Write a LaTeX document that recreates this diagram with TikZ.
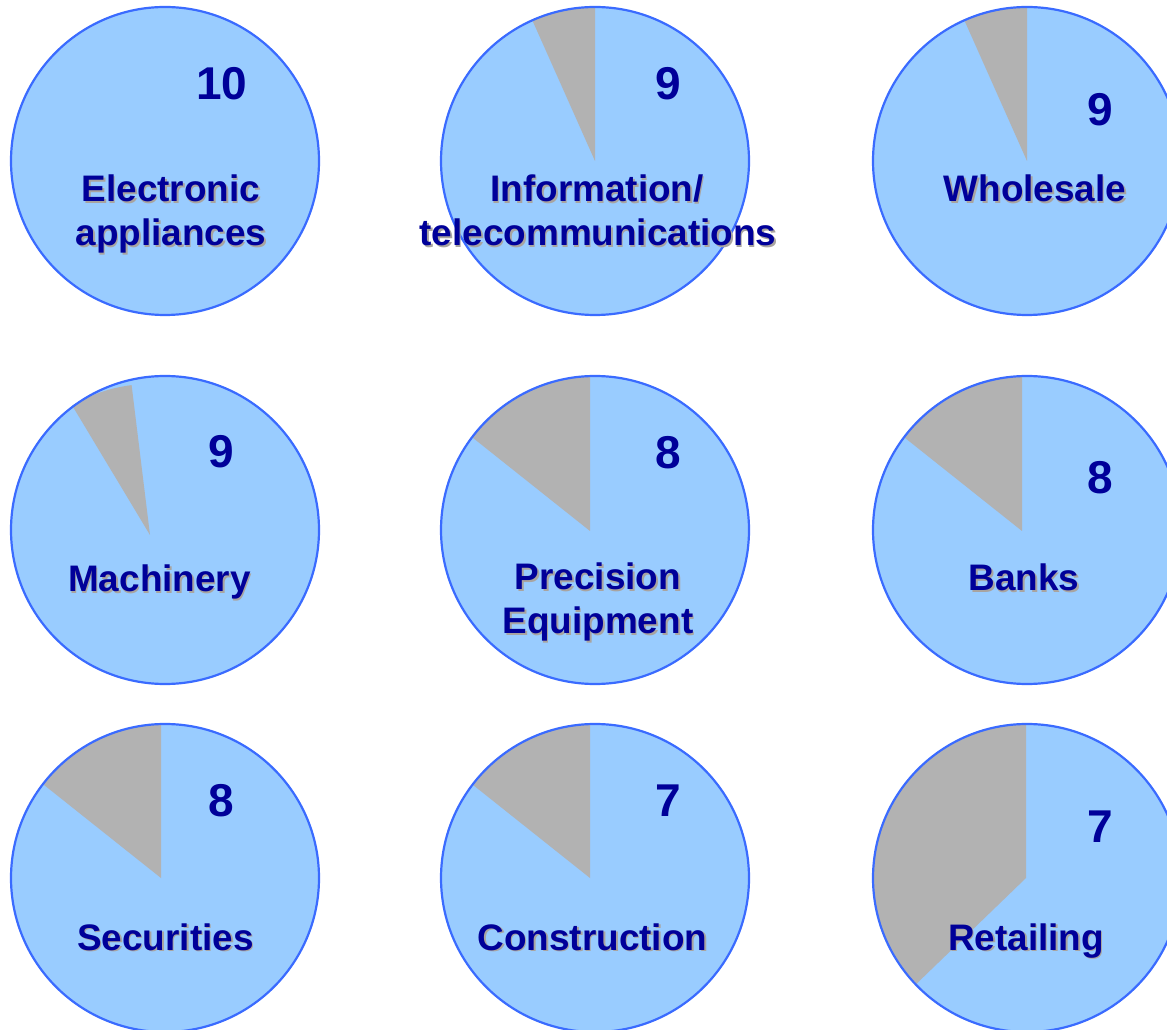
\documentclass[tikz,border=0pt]{standalone}
\usepackage{fontspec}
\setmainfont{Liberation Sans}
\definecolor{pieblue}{HTML}{99CCFF}
\definecolor{pieedge}{HTML}{3A6BFF}
\definecolor{piegray}{HTML}{B2B2B2}
\definecolor{txtblue}{HTML}{000099}
\definecolor{shadowc}{HTML}{A9A4A0}
\tikzset{
  piefill/.style={fill=pieblue},
  pieline/.style={draw=pieedge,line width=1.1pt},
  wedgefill/.style={fill=piegray},
  lbl/.style={text=txtblue,font=\fontsize{18.45pt}{22pt}\selectfont\bfseries,inner sep=0pt,anchor=base},
  lblsh/.style={lbl,text=shadowc},
  num/.style={text=txtblue,font=\fontsize{23pt}{27pt}\selectfont\bfseries,inner sep=0pt,anchor=base},
}
% name, x, y, text
\newcommand\plbl[4]{%
  \node[lblsh] (#1s) at ([shift={(0.75pt,-0.75pt)}]#2,#3) {#4};
  \node[lbl] (#1) at (#2,#3) {#4};}
% pie: cx, cy, vertex x, vertex y, end angle
\newcommand\pieslice[5]{%
  \fill[piefill] (#1,#2) circle (154);
  \begin{scope}
    \clip (#1,#2) circle (154);
    \fill[wedgefill] (#3,#4) -- ++(90:520) -- ({#3+520*cos((90+#5)/2)},{#4+520*sin((90+#5)/2)}) -- ({#3+520*cos(#5)},{#4+520*sin(#5)}) -- cycle;
  \end{scope}
  \draw[pieline] (#1,#2) circle (154);}
\begin{document}
\begin{tikzpicture}[x=0.5pt,y=0.5pt]
\useasboundingbox (0,0) rectangle (1167,1029);
\clip (0,0) rectangle (1167,1029);

% Row 1
\fill[piefill] (165,868) circle (154);
\draw[pieline] (165,868) circle (154);
\pieslice{595}{868}{595}{868}{114}
\pieslice{1027}{868}{1027}{868}{114}

% Row 2
\fill[piefill] (165,499) circle (154);
\fill[wedgefill] (150,494) -- ++(97:151) arc[start angle=97,end angle=121,radius=151] -- cycle;
\draw[pieline] (165,499) circle (154);
\pieslice{595}{499}{590}{498}{141.5}
\pieslice{1027}{499}{1022}{498}{141.5}

% Row 3
\pieslice{165}{151}{161}{151}{141.5}
\pieslice{595}{151}{590}{151}{141.5}
\pieslice{1027}{151}{1026}{151}{224}

% Numbers
\node[num] (n11) at (222,929) {10};
\node[num] (n12) at (668.5,929) {9};
\node[num] (n13) at (1100.5,903) {9};
\node[num] (n21) at (221,561) {9};
\node[num] (n22) at (668,560) {8};
\node[num] (n23) at (1100,535) {8};
\node[num] (n31) at (221,213) {8};
\node[num] (n32) at (668,213) {7};
\node[num] (n33) at (1100,187) {7};

% Labels
\plbl{l11a}{171}{827}{Electronic}
\plbl{l11b}{171}{783}{appliances}
\plbl{l12a}{597}{827}{Information/}
\plbl{l12b}{598}{783}{telecommunications}
\plbl{l13a}{1035}{827}{Wholesale}
\plbl{l21a}{159.5}{437}{Machinery}
\plbl{l22a}{598}{439}{Precision}
\plbl{l22b}{598}{395}{Equipment}
\plbl{l23a}{1024}{438}{Banks}
\plbl{l31a}{165.5}{79}{Securities}
\plbl{l32a}{592.5}{79}{Construction}
\plbl{l33a}{1026}{79}{Retailing}
\end{tikzpicture}
\end{document}
